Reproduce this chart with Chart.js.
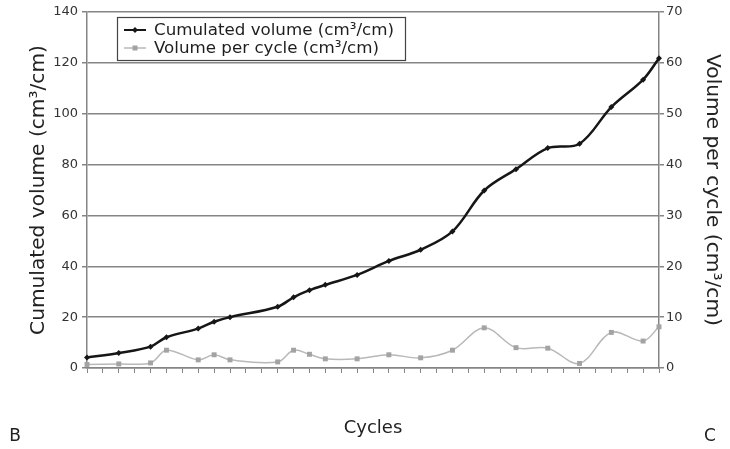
<!DOCTYPE html>
<html>
<head>
<meta charset="utf-8">
<script src="https://cdn.jsdelivr.net/npm/chart.js@4/dist/chart.umd.min.js"></script>
<style>
  html, body { margin: 0; padding: 0; background: #ffffff; }
  #wrap { position: relative; width: 730px; height: 449px; }
</style>
</head>
<body>
<div id="wrap"><canvas id="c" width="730" height="449"></canvas></div>
<script>
// ---- data ----
const cycles = [1,2,3,4,5,6,7,8,9,10,11,12,13,14,15,16,17,18,19,20,21,22,23,24,25,26,27,28,29,30,31,32,33,34,35,36,37];
const cumulatedVolume = [4.1,null,5.9,null,8.4,12.1,null,15.5,18.2,20.0,null,null,24.1,27.8,30.6,32.7,null,36.6,null,42.1,null,46.5,null,53.7,null,69.8,null,78.2,null,86.5,null,88.2,null,102.6,null,113.4,121.8];
const volumePerCycle = [0.7,null,0.8,null,1.0,3.5,null,1.6,2.6,1.6,null,null,1.2,3.5,2.7,1.8,null,1.8,null,2.6,null,2.0,null,3.5,null,7.9,null,4.0,null,3.9,null,0.9,null,7.0,null,5.3,8.1];
const leftTicks = [0,20,40,60,80,100,120,140];
const rightTicks = [0,10,20,30,40,50,60,70];
const seriesNames = ['Cumulated volume (cm³/cm)', 'Volume per cycle (cm³/cm)'];
const leftTitle = 'Cumulated volume (cm³/cm)';
const rightTitle = 'Volume per cycle (cm³/cm)';
const xTitle = 'Cycles';
const cornerLabels = ['B', 'C'];

// ---- helpers ----
const FAM = '"DejaVu Sans", Verdana, sans-serif';
const mctx = document.createElement('canvas').getContext('2d');
function fitSize(text, target, family) {
  mctx.font = '100px ' + family;
  return 100 * target / mctx.measureText(text).width;
}
const leftTitleSize = fitSize(leftTitle, 290, FAM);
const rightTitleSize = fitSize(rightTitle, 272, FAM);
const legendSize = fitSize(seriesNames[0], 240, FAM);
const xTitleSize = 18;

const BLACK = '#161616';
const GREY_LINE = '#b8b8b8';
const GREY_PT = '#a3a3a3';
const GRID = '#858585';

const legendPlugin = {
  id: 'boxLegend',
  afterDraw(chart) {
    const ctx = chart.ctx;
    const a = chart.chartArea;
    const x0 = a.left + 30, y0 = a.top + 5, w = 288, h = 43;
    ctx.save();
    ctx.fillStyle = '#ffffff';
    ctx.fillRect(x0, y0, w, h);
    ctx.strokeStyle = '#444444';
    ctx.lineWidth = 1.2;
    ctx.strokeRect(x0 + 0.5, y0 + 0.5, w, h);
    const rows = [y0 + 13, y0 + 31];
    const ds = chart.data.datasets;
    ds.forEach((d, i) => {
      const cy = rows[i];
      ctx.strokeStyle = d.borderColor;
      ctx.lineWidth = i === 0 ? 2 : 1.5;
      ctx.beginPath();
      ctx.moveTo(x0 + 7, cy);
      ctx.lineTo(x0 + 29, cy);
      ctx.stroke();
      ctx.fillStyle = d.pointBackgroundColor;
      if (i === 0) {
        ctx.beginPath();
        ctx.moveTo(x0 + 18, cy - 3);
        ctx.lineTo(x0 + 21, cy);
        ctx.lineTo(x0 + 18, cy + 3);
        ctx.lineTo(x0 + 15, cy);
        ctx.closePath();
        ctx.fill();
      } else {
        ctx.fillRect(x0 + 15.5, cy - 2.5, 5, 5);
      }
      ctx.fillStyle = '#1e1e1e';
      ctx.font = legendSize.toFixed(2) + 'px ' + FAM;
      ctx.textBaseline = 'middle';
      ctx.textAlign = 'left';
      ctx.fillText(d.label, x0 + 37, cy + 1);
    });
    // corner labels
    ctx.font = '17px ' + FAM;
    ctx.fillStyle = '#222222';
    ctx.textBaseline = 'middle';
    ctx.textAlign = 'center';
    ctx.fillText(cornerLabels[0], 15, 437);
    ctx.fillText(cornerLabels[1], 710, 437);
    ctx.restore();
  }
};

new Chart(document.getElementById('c'), {
  type: 'line',
  data: {
    labels: cycles,
    datasets: [
      {
        label: seriesNames[0],
        data: cumulatedVolume,
        yAxisID: 'y',
        borderColor: BLACK,
        backgroundColor: BLACK,
        pointBackgroundColor: BLACK,
        pointBorderColor: BLACK,
        borderWidth: 2.5,
        pointStyle: 'rectRot',
        pointRadius: 3,
        pointBorderWidth: 0,
        tension: 0.35,
        spanGaps: true,
        order: 1
      },
      {
        label: seriesNames[1],
        data: volumePerCycle,
        yAxisID: 'y1',
        borderColor: GREY_LINE,
        backgroundColor: GREY_PT,
        pointBackgroundColor: GREY_PT,
        pointBorderColor: GREY_PT,
        borderWidth: 1.5,
        pointStyle: 'rect',
        pointRadius: 3.5,
        pointBorderWidth: 0,
        tension: 0.35,
        spanGaps: true,
        order: 2
      }
    ]
  },
  options: {
    responsive: false,
    animation: false,
    layout: { padding: { top: 12, left: 0, right: 0, bottom: 0 } },
    plugins: { legend: { display: false }, tooltip: { enabled: false } },
    scales: {
      x: {
        type: 'category',
        offset: false,
        grid: { display: true, drawOnChartArea: false, drawTicks: true, tickLength: 5, color: GRID, lineWidth: 1 },
        border: { display: true, color: GRID, width: 1.5 },
        ticks: { autoSkip: false, maxRotation: 0, callback: () => '', padding: 0 },
        title: {
          display: true, text: xTitle, color: '#222222',
          font: { family: FAM, size: xTitleSize },
          padding: { top: 0, bottom: 21 - 0.6 * xTitleSize }
        },
        afterFit(s) { s.height = 81; s.paddingLeft = 0; s.paddingRight = 0; }
      },
      y: {
        position: 'left',
        min: 0, max: 140,
        afterBuildTicks(s) { s.ticks = leftTicks.map(v => ({ value: v })); },
        grid: { display: true, drawOnChartArea: true, drawTicks: true, tickLength: 5, color: GRID, lineWidth: 1.5 },
        border: { display: true, color: GRID, width: 1.5 },
        ticks: { color: '#333333', font: { family: FAM, size: 13 }, padding: 4 },
        title: {
          display: true, text: leftTitle, color: '#222222',
          font: { family: FAM, size: leftTitleSize },
          padding: { top: 39 - 0.6 * leftTitleSize, bottom: 0 }
        },
        afterFit(s) { s.width = 87; s.paddingTop = 0; s.paddingBottom = 0; }
      },
      y1: {
        position: 'right',
        min: 0, max: 70,
        afterBuildTicks(s) { s.ticks = rightTicks.map(v => ({ value: v })); },
        grid: { display: true, drawOnChartArea: false, drawTicks: true, tickLength: 5, color: GRID, lineWidth: 1.5 },
        border: { display: true, color: GRID, width: 1.5 },
        ticks: { color: '#333333', font: { family: FAM, size: 13 }, padding: 2 },
        title: {
          display: true, text: rightTitle, color: '#222222',
          font: { family: FAM, size: rightTitleSize },
          padding: { top: 18 - 0.6 * rightTitleSize, bottom: 0 }
        },
        afterFit(s) { s.width = 71; s.paddingTop = 0; s.paddingBottom = 0; }
      }
    }
  },
  plugins: [legendPlugin]
});
</script>
</body>
</html>
